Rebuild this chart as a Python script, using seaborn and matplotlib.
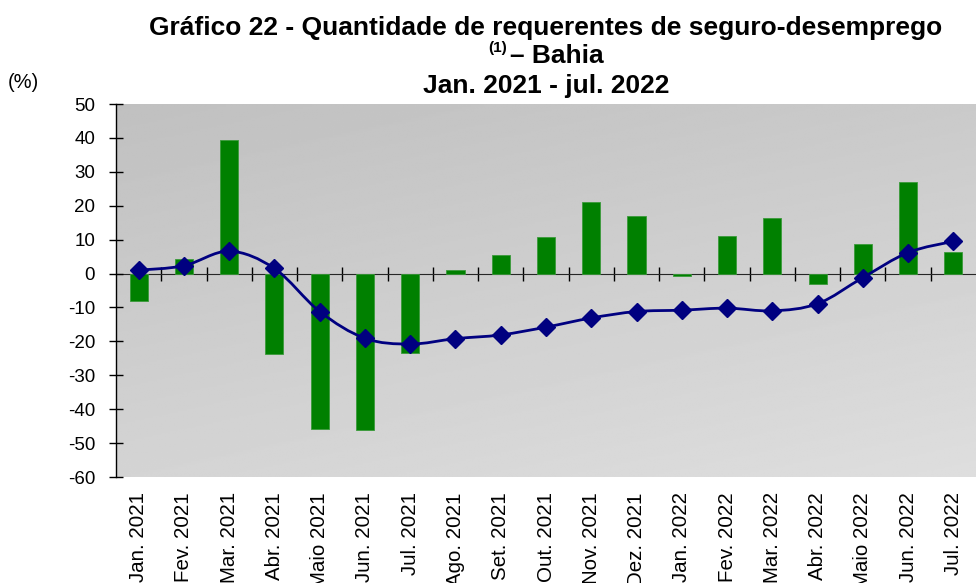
import numpy as np
import pandas as pd
import matplotlib
matplotlib.use("Agg")
import matplotlib.pyplot as plt
from matplotlib.path import Path
from matplotlib.patches import PathPatch
import seaborn as sns

meses = ['Jan. 2021', 'Fev. 2021', 'Mar. 2021', 'Abr. 2021', 'Maio 2021', 'Jun. 2021',
         'Jul. 2021', 'Ago. 2021', 'Set. 2021', 'Out. 2021', 'Nov. 2021', 'Dez. 2021',
         'Jan. 2022', 'Fev. 2022', 'Mar. 2022', 'Abr. 2022', 'Maio 2022', 'Jun. 2022',
         'Jul. 2022']
# variação mensal (barras)
var_mensal = [-8.2, 4.4, 39.4, -23.7, -45.8, -46.2, -23.3, 1.0, 5.4, 10.7,
              21.1, 17.1, -0.7, 11.0, 16.3, -3.0, 8.8, 27.0, 6.4]
# variação acumulada 12 meses (linha)
var_12m = [1.0, 2.3, 6.6, 1.5, -11.2, -19.1, -20.8, -19.2, -18.1, -15.8,
           -13.1, -11.2, -10.8, -10.2, -11.0, -8.9, -1.2, 6.2, 9.5]
y_ticks = list(range(-60, 51, 10))

sns.set_style("white")
plt.rcParams['font.family'] = ['Liberation Sans', 'DejaVu Sans']
plt.rcParams['axes.unicode_minus'] = False
plt.rcParams['text.color'] = 'black'
plt.rcParams['xtick.color'] = 'black'
plt.rcParams['ytick.color'] = 'black'

W, H = 976, 583
fig = plt.figure(figsize=(W / 100, H / 100), dpi=100)
ax = fig.add_axes([116 / W, 1 - 477 / H, 1 - 116 / W, (477 - 104) / H])

df = pd.DataFrame({'mes': meses, 'mensal': var_mensal, 'acum': var_12m})

# fundo degradê
gx, gy = np.meshgrid(np.linspace(0, 1, 200), np.linspace(0, 1, 200))
grad = 192 + 20 * gy + 10 * gx
ax.imshow(grad, cmap='gray', vmin=0, vmax=255, extent=[0, 1, 0, 1],
          transform=ax.transAxes, aspect='auto', zorder=0, origin='upper')

sns.barplot(data=df, x='mes', y='mensal', color='#008000', saturation=1,
            width=0.4, ax=ax, zorder=2, edgecolor='#3a9a3a', linewidth=0.6)

# linha suavizada (bezier tipo Catmull-Rom)
xs = np.arange(len(var_12m), dtype=float)
ys = np.array(var_12m, dtype=float)
pts = np.column_stack([xs, ys])
verts = [pts[0]]
codes = [Path.MOVETO]
for i in range(len(pts) - 1):
    p0 = pts[i - 1] if i > 0 else pts[i]
    p1, p2 = pts[i], pts[i + 1]
    p3 = pts[i + 2] if i + 2 < len(pts) else pts[i + 1]
    verts += [p1 + (p2 - p0) / 6, p2 - (p3 - p1) / 6, p2]
    codes += [Path.CURVE4] * 3
ax.add_patch(PathPatch(Path(verts, codes), facecolor='none', edgecolor='#000080',
                       lw=2, zorder=3))
ax.plot(xs, ys, linestyle='none', marker='D', ms=9, color='#000080', zorder=4)

ax.set_xlim(-0.5, len(meses) - 0.5)
ax.set_ylim(-60, 50)
ax.set_yticks(y_ticks)
ax.set_xlabel('')
ax.set_ylabel('')
ax.tick_params(axis='y', direction='inout', length=10, width=1, color='black',
               labelsize=13.5, pad=10, left=True)
ax.tick_params(axis='x', length=0, labelsize=14.8, pad=11, labelrotation=90)
for lab in ax.get_xticklabels():
    lab.set_va('top')
for s in ['top', 'right', 'bottom']:
    ax.spines[s].set_visible(False)
ax.spines['left'].set_color('black')
ax.spines['left'].set_linewidth(1)

# eixo no zero com marcas entre categorias
zero_frac = (0 - (-60)) / (50 - (-60))
sec = ax.secondary_xaxis(zero_frac)
sec.set_xticks(np.arange(0.5, len(meses) - 0.5, 1.0))
sec.tick_params(direction='inout', length=10, width=1, color='black', labelbottom=False)
sec.set_xticklabels([])
sec.spines['bottom'].set_color('black')
sec.spines['bottom'].set_linewidth(1)

cx = (116 + 976) / 2 / W
fig.text(cx, 1 - 35 / H, 'Gráfico 22 - Quantidade de requerentes de seguro-desemprego',
         ha='center', va='baseline', fontsize=19, fontweight='bold')
fig.text(510 / W, 1 - 63 / H, '– Bahia', ha='left', va='baseline', fontsize=19,
         fontweight='bold')
fig.text(507 / W, 1 - 52 / H, '(1)', ha='right', va='baseline', fontsize=11,
         fontweight='bold')
fig.text(cx, 1 - 93 / H, 'Jan. 2021 - jul. 2022', ha='center', va='baseline',
         fontsize=19, fontweight='bold')
fig.text(8 / W, 1 - 83 / H, '(%)', ha='left', va='center', fontsize=14.5)

fig.savefig('out.png', dpi=100)
